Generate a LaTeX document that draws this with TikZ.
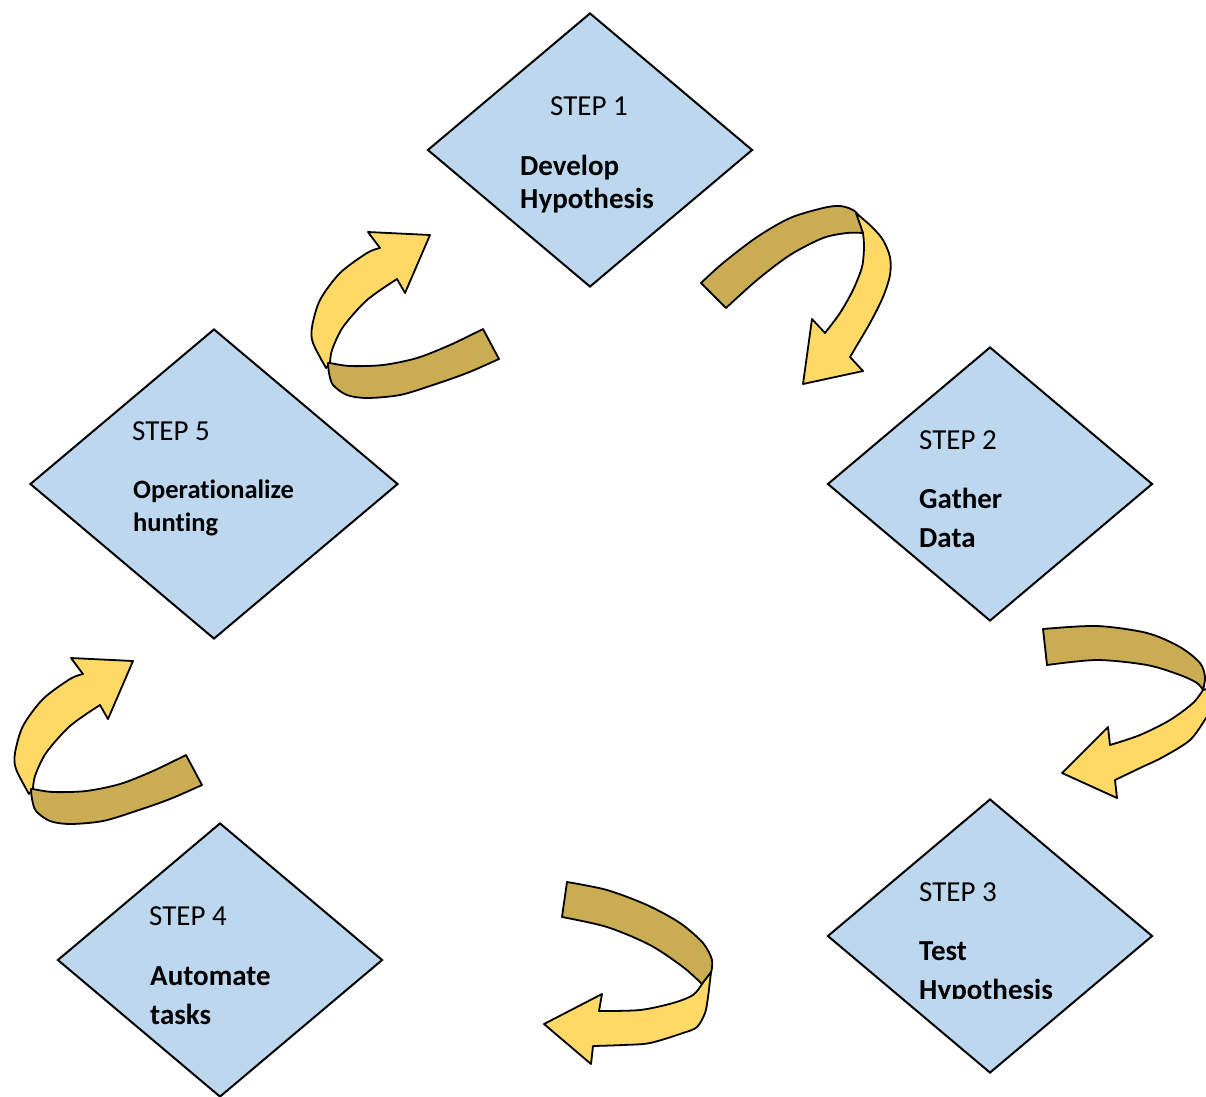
\documentclass[tikz,border=0pt]{standalone}
\usepackage{fontspec}
\setmainfont{Carlito}[Ligatures={NoCommon}]
\usepackage{tikz}
\usetikzlibrary{shapes.geometric}

\definecolor{stepblue}{HTML}{BDD7EE}
\definecolor{bandfront}{HTML}{FFD966}
\definecolor{bandback}{HTML}{CAAC52}

\begin{document}
\begin{tikzpicture}[x=1pt, y=-1pt,
  stepbox/.style = {diamond, draw, fill=stepblue, line width=2pt, inner sep=0pt,
                    minimum width=325pt, minimum height=274pt},
  steptitle/.style = {anchor=base west, inner sep=0pt, font=\fontsize{29}{34}\selectfont},
  steptext/.style = {anchor=base west, inner sep=0pt, font=\fontsize{29}{34}\selectfont\bfseries},
  front/.style = {fill=bandfront, draw, line width=1.8pt, line join=round},
  back/.style = {fill=bandback, draw, line width=1.8pt, line join=round}]
\useasboundingbox (0,0) rectangle (1206,1096);

% the five steps
\node[stepbox] (d1) at (590,150) {};
\node[stepbox] (d2) at (990,484) {};
\node[stepbox] (d3) at (990,936) {};
\node[stepbox] (d4) at (220,960) {};
\node[stepbox, minimum width=368pt, minimum height=310pt] (d5) at (214,484) {};

\node[steptitle] (s1) at (550,115) {STEP 1};
\node[steptext] (s1a) at (520,175) {Develop};
\node[steptext] (s1b) at (520,208) {Hypothesis};

\node[steptitle] (s2) at (919,449) {STEP 2};
\node[steptext] (s2a) at (919,508) {Gather};
\node[steptext] (s2b) at (919,547) {Data};

\node[steptitle] (s3) at (919,901) {STEP 3};
\node[steptext] (s3a) at (919,960) {Test};
\begin{scope}
  \clip (900,960) rectangle (1100,998);
  \node[steptext] (s3b) at (919,999) {Hypothesis};
\end{scope}

\node[steptitle] (s4) at (149,925) {STEP 4};
\node[steptext] (s4a) at (150,985) {Automate};
\node[steptext] (s4b) at (150,1024) {tasks};

\node[steptitle] (s5) at (132,440) {STEP 5};
\node[steptext, font=\fontsize{26.5}{30}\selectfont\bfseries] (s5a) at (133,498) {Operationalize};
\node[steptext, font=\fontsize{26.5}{30}\selectfont\bfseries] (s5b) at (133,531) {hunting};

% step 1 -> step 2
\draw[back] plot[smooth] coordinates {(701,283) (723,263) (757,237) (790,218) (823,208) (840,206) (853,210) (860,218) (863,233)}
  -- plot[smooth] coordinates {(863,233) (847,233) (823,238) (790,255) (757,280) (726,308)} -- cycle;
\draw[front] plot[smooth] coordinates {(856,213) (872,227) (883,240) (890,257) (890,275) (883,297) (870,323) (850,357)}
  -- (863,371) -- (803,384) -- (812,319) -- (825,333)
  -- plot[smooth] coordinates {(825,333) (840,313) (853,290) (862,267) (864,247) (863,233)} -- cycle;

% step 2 -> step 3
\draw[back] plot[smooth] coordinates {(1043,629) (1097,626) (1147,633) (1180,647) (1200,663) (1205,677) (1203,690)}
  -- plot[smooth] coordinates {(1203,690) (1197,683) (1180,675) (1147,665) (1097,660) (1047,665)} -- cycle;
\draw[front] plot[smooth] coordinates {(1203,690) (1210,690) (1213,705) (1206,718) (1190,740) (1163,757) (1140,768) (1115,780)}
  -- (1117,798) -- (1062,773) -- (1108,727) -- (1110,745)
  -- plot[smooth] coordinates {(1110,745) (1140,735) (1170,720) (1193,703) (1203,690)} -- cycle;

% step 3 -> step 4
\draw[back] plot[smooth] coordinates {(567,882) (607,890) (647,905) (680,923) (703,943) (712,960) (711,973)}
  -- (702,984)
  -- plot[smooth] coordinates {(702,984) (683,967) (650,945) (607,927) (562,917)} -- cycle;
\draw[front] plot[smooth] coordinates {(711,972) (708,997) (705,1013) (697,1027) (683,1033) (650,1043) (623,1045) (593,1046)}
  -- (591,1064) -- (544,1024) -- (602,994) -- (599,1011)
  -- plot[smooth] coordinates {(599,1011) (640,1010) (673,1003) (693,995) (702,984)} -- cycle;

% step 4 -> step 5 and step 5 -> step 1
\foreach \dx/\dy in {-297/426, 0/0} {
  \begin{scope}[shift={(\dx,\dy)}]
    \draw[front] plot[smooth] coordinates {(326,368) (313,343) (312,327) (320,300) (340,273) (367,253) (380,248)}
      -- (368,232) -- (430,235) -- (405,293) -- (397,279)
      -- plot[smooth] coordinates {(397,279) (367,300) (343,327) (332,350) (330,363)} -- cycle;
    \draw[back] plot[smooth] coordinates {(483,329) (450,345) (417,358) (383,365) (350,366) (330,363)}
      -- plot[smooth] coordinates {(328,363) (329,373) (333,385) (347,395) (367,398) (400,395) (433,385) (467,373) (499,359)} -- cycle;
  \end{scope}
}
\end{tikzpicture}
\end{document}
